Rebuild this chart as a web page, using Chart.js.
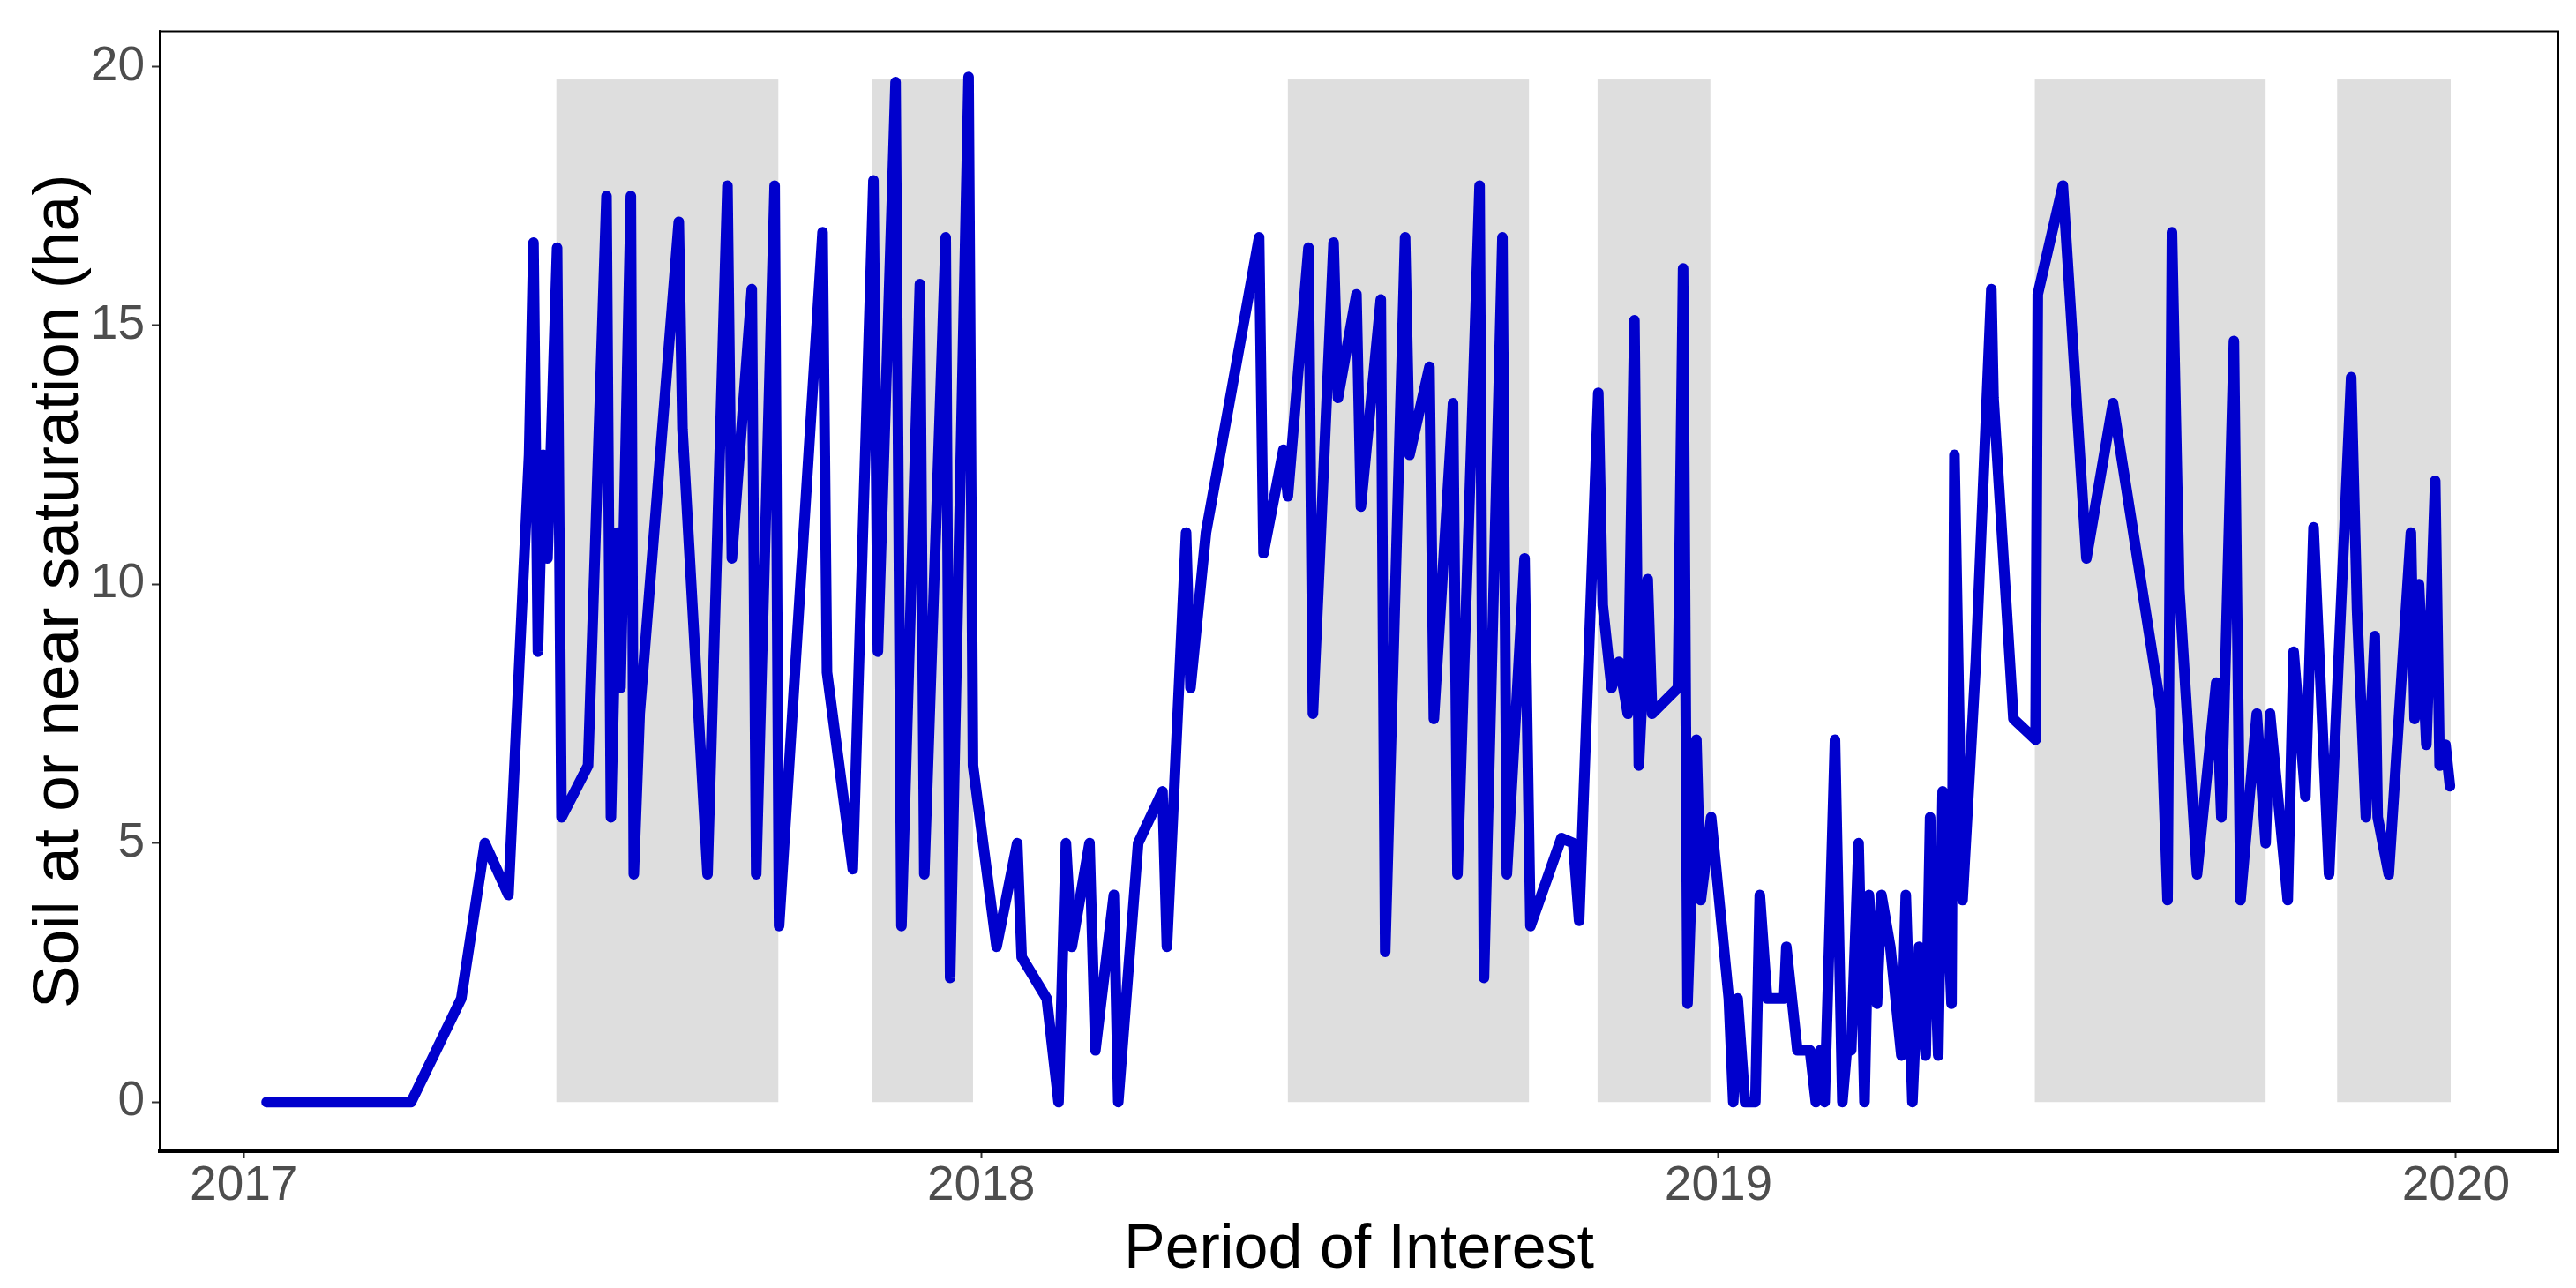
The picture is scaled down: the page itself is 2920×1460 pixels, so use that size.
<!DOCTYPE html>
<html>
<head>
<meta charset="utf-8">
<script src="https://cdn.jsdelivr.net/npm/chart.js@4.4.1/dist/chart.umd.min.js"></script>
<style>
  html, body { margin: 0; padding: 0; background: #fff; }
  canvas { display: block; }
</style>
</head>
<body>
<canvas id="soilChart" width="2920" height="1460"></canvas>
<script>
// Dates as decimal years
const dates = [
  2017.031, 2017.227, 2017.295, 2017.327, 2017.359, 2017.387, 2017.393, 2017.399, 2017.406, 2017.412,
  2017.425, 2017.431, 2017.467, 2017.492, 2017.498, 2017.507, 2017.511, 2017.525, 2017.529, 2017.537,
  2017.590, 2017.595, 2017.629, 2017.656, 2017.662, 2017.689, 2017.695, 2017.720, 2017.726, 2017.785,
  2017.791, 2017.826, 2017.854, 2017.860, 2017.884, 2017.892, 2017.917, 2017.923, 2017.952, 2017.958,
  2017.983, 2017.989, 2018.021, 2018.049, 2018.055, 2018.089, 2018.105, 2018.115, 2018.123, 2018.147,
  2018.155, 2018.180, 2018.186, 2018.213, 2018.246, 2018.252, 2018.278, 2018.284, 2018.305, 2018.377,
  2018.383, 2018.410, 2018.416, 2018.444, 2018.450, 2018.478, 2018.484, 2018.509, 2018.515, 2018.542,
  2018.548, 2018.575, 2018.581, 2018.608, 2018.614, 2018.640, 2018.646, 2018.676, 2018.682, 2018.707,
  2018.713, 2018.737, 2018.745, 2018.787, 2018.803, 2018.811, 2018.837, 2018.843, 2018.855, 2018.865,
  2018.877, 2018.886, 2018.892, 2018.904, 2018.910, 2018.945, 2018.952, 2018.958, 2018.970, 2018.976,
  2018.990, 2019.014, 2019.020, 2019.026, 2019.036, 2019.050, 2019.056, 2019.066, 2019.089, 2019.092,
  2019.107, 2019.124, 2019.132, 2019.138, 2019.144, 2019.158, 2019.168, 2019.174, 2019.180, 2019.190,
  2019.198, 2019.204, 2019.215, 2019.221, 2019.233, 2019.248, 2019.254, 2019.263, 2019.272, 2019.281,
  2019.287, 2019.298, 2019.304, 2019.316, 2019.320, 2019.331, 2019.349, 2019.370, 2019.373, 2019.400,
  2019.430, 2019.433, 2019.467, 2019.499, 2019.535, 2019.600, 2019.609, 2019.615, 2019.625, 2019.649,
  2019.675, 2019.682, 2019.699, 2019.708, 2019.730, 2019.742, 2019.748, 2019.772, 2019.780, 2019.796,
  2019.807, 2019.828, 2019.858, 2019.866, 2019.878, 2019.890, 2019.894, 2019.909, 2019.939, 2019.944,
  2019.950, 2019.960, 2019.972, 2019.978, 2019.986, 2019.992
];

// Soil at or near saturation (ha)
const saturation = [
  0, 0, 2.0, 5.0, 4.0, 12.5, 16.6, 8.7, 12.5, 10.5,
  16.5, 5.5, 6.5, 17.5, 5.5, 11.0, 8.0, 17.5, 4.4, 7.5,
  17.0, 13.0, 4.4, 17.7, 10.5, 15.7, 4.4, 17.7, 3.4, 16.8,
  8.3, 4.5, 17.8, 8.7, 19.7, 3.4, 15.8, 4.4, 16.7, 2.4,
  19.8, 6.5, 3.0, 5.0, 2.8, 2.0, 0, 5.0, 3.0, 5.0,
  1.0, 4.0, 0, 5.0, 6.0, 3.0, 11.0, 8.0, 11.0, 16.7,
  10.6, 12.6, 11.7, 16.5, 7.5, 16.6, 13.6, 15.6, 11.5, 15.5,
  2.9, 16.7, 12.5, 14.2, 7.4, 13.5, 4.4, 17.7, 2.4, 16.7,
  4.4, 10.5, 3.4, 5.1, 5.0, 3.5, 13.7, 9.6, 8.0, 8.5,
  7.5, 15.1, 6.5, 10.1, 7.5, 8.0, 16.1, 1.9, 7.0, 3.9,
  5.5, 2.0, 0, 2.0, 0, 0, 4.0, 2.0, 2.0, 3.0,
  1.0, 1.0, 0, 1.0, 0, 7.0, 0, 1.0, 1.0, 5.0,
  0, 4.0, 1.9, 4.0, 3.0, 0.9, 4.0, 0, 3.0, 0.9,
  5.5, 0.9, 6.0, 1.9, 12.5, 3.9, 8.5, 15.7, 13.6, 7.4,
  7.0, 15.6, 17.7, 10.5, 13.5, 7.6, 3.9, 16.8, 9.9, 4.4,
  8.1, 5.5, 14.7, 3.9, 7.5, 5.0, 7.5, 3.9, 8.7, 5.9,
  11.1, 4.4, 14.0, 9.5, 5.5, 9.0, 5.5, 4.4, 11.0, 7.4,
  10.0, 6.9, 12.0, 6.5, 6.9, 6.1
];

// Grey shaded periods (decimal years)
const shadeStart = [2017.424, 2017.852, 2018.416, 2018.836, 2019.429, 2019.839];
const shadeEnd = [2017.725, 2017.989, 2018.743, 2018.989, 2019.742, 2019.993];
const shadeTop = 19.75;

const xTicks = [2017, 2018, 2019, 2020];
const yTicks = [0, 5, 10, 15, 20];

// Draw grey period boxes behind the line, and the panel border on top
const periodPlugin = {
  id: 'periods',
  beforeDatasetsDraw(chart) {
    const { ctx, scales: { x, y } } = chart;
    ctx.save();
    ctx.fillStyle = '#DEDEDE';
    shadeStart.forEach((s, i) => {
      const x0 = x.getPixelForValue(s);
      const x1 = x.getPixelForValue(shadeEnd[i]);
      const y0 = y.getPixelForValue(shadeTop);
      const y1 = y.getPixelForValue(0);
      ctx.fillRect(x0, y0, x1 - x0, y1 - y0);
    });
    ctx.restore();
  },
  afterDraw(chart) {
    const { ctx, chartArea: a } = chart;
    ctx.save();
    ctx.strokeStyle = '#000';
    ctx.lineWidth = 2;
    ctx.strokeRect(a.left, a.top, a.right - a.left, a.bottom - a.top);
    ctx.restore();
  }
};

const points = dates.map((d, i) => ({ x: d, y: saturation[i] }));

new Chart(document.getElementById('soilChart'), {
  type: 'line',
  data: {
    datasets: [{
      data: points,
      borderColor: '#0000CD',
      borderWidth: 12,
      borderJoinStyle: 'round',
      borderCapStyle: 'round',
      pointRadius: 0,
      tension: 0,
      fill: false
    }]
  },
  options: {
    responsive: false,
    animation: false,
    devicePixelRatio: 1,
    layout: { padding: { top: 30, right: 20, left: 0, bottom: 0 } },
    plugins: {
      legend: { display: false },
      tooltip: { enabled: false }
    },
    scales: {
      x: {
        type: 'linear',
        min: 2016.886,
        max: 2020.139,
        afterBuildTicks: (s) => { s.ticks = xTicks.map(v => ({ value: v })); },
        afterFit: (s) => { s.height = 155; },
        grid: { drawOnChartArea: false, drawTicks: true, tickLength: 8, tickColor: '#333', tickWidth: 2 },
        border: { display: true, color: '#000', width: 4 },
        ticks: {
          color: '#4D4D4D',
          padding: 4,
          maxRotation: 0,
          font: { family: 'Liberation Sans, Arial, sans-serif', size: 55, lineHeight: 1 },
          callback: (v) => String(v)
        },
        title: {
          display: true,
          text: 'Period of Interest',
          color: '#000',
          padding: { top: 0, bottom: 0 },
          font: { family: 'Liberation Sans, Arial, sans-serif', size: 70, lineHeight: 1.2 }
        }
      },
      y: {
        min: -0.95,
        max: 20.68,
        afterBuildTicks: (s) => { s.ticks = yTicks.map(v => ({ value: v })); },
        afterFit: (s) => { s.width = 181; },
        grid: { drawOnChartArea: false, drawTicks: true, tickLength: 9, tickColor: '#333', tickWidth: 2 },
        border: { display: true, color: '#333', width: 3 },
        ticks: {
          color: '#4D4D4D',
          padding: 8,
          font: { family: 'Liberation Sans, Arial, sans-serif', size: 55, lineHeight: 1 }
        },
        title: {
          display: true,
          text: 'Soil at or near saturation (ha)',
          color: '#000',
          padding: { top: 24, bottom: 0 },
          font: { family: 'Liberation Sans, Arial, sans-serif', size: 73, lineHeight: 1.2 }
        }
      }
    }
  },
  plugins: [periodPlugin]
});
</script>
</body>
</html>
